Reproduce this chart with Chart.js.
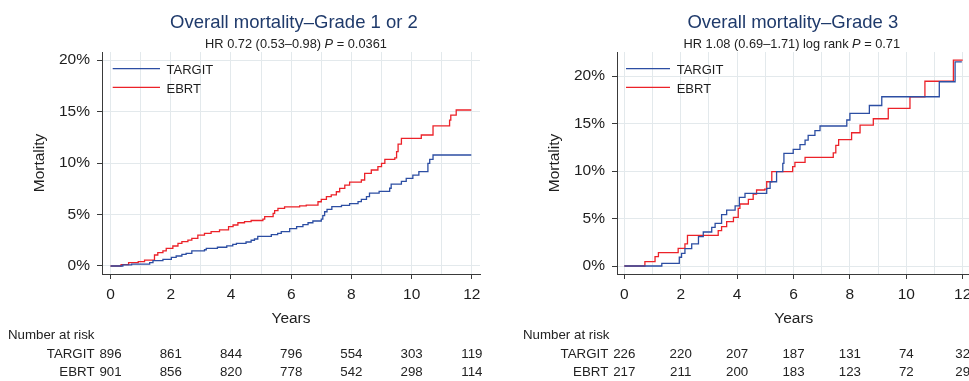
<!DOCTYPE html>
<html>
<head>
<meta charset="utf-8">
<title>Overall mortality by grade</title>
<script src="https://cdn.jsdelivr.net/npm/chart.js@4.4.1/dist/chart.umd.min.js"></script>
<style>
  html, body { margin: 0; padding: 0; background: #ffffff; overflow: hidden; }
  #wrap { position: relative; width: 969px; height: 381px; overflow: hidden; background: #ffffff; }
  #wrap canvas { position: absolute; top: 0; }
  #gradeLow { left: 0; }
  #gradeHigh { left: 500px; }
</style>
</head>
<body>
<div id="wrap">
  <canvas id="gradeLow" width="500" height="381"></canvas>
  <canvas id="gradeHigh" width="480" height="381"></canvas>
</div>
<script>
// ---- axis ticks and series names ----
const yearGrid = [0, 1, 2, 3, 4, 5, 6, 7, 8, 9, 10, 11, 12];
const riskYears = [0, 2, 4, 6, 8, 10, 12];
const pctTicks = [0, 5, 10, 15, 20];
const seriesNames = ['TARGIT', 'EBRT'];

// ---- Grade 1 or 2: cumulative mortality (%) after each event time (years) ----
const g12TargitYears = [0, 0.41, 0.70, 1.30, 1.41, 1.74, 2.02, 2.18, 2.37, 2.51, 2.70, 3.12, 3.18, 3.55, 3.86, 4.06, 4.18, 4.50, 4.67, 4.78, 4.89, 5.34, 5.55, 5.67, 5.95, 6.18, 6.39, 6.56, 6.72, 7.00, 7.05, 7.11, 7.19, 7.35, 7.67, 7.94, 8.22, 8.33, 8.50, 8.60, 8.92, 9.27, 9.32, 9.66, 9.82, 10.04, 10.24, 10.54, 10.60, 10.71, 11.98];
const g12TargitPct   = [0, 0.10, 0.19, 0.32, 0.52, 0.65, 0.84, 0.97, 1.13, 1.23, 1.46, 1.58, 1.72, 1.82, 1.96, 2.10, 2.20, 2.33, 2.50, 2.62, 2.88, 3.05, 3.17, 3.33, 3.63, 3.82, 4.02, 4.20, 4.37, 4.55, 4.90, 5.27, 5.50, 5.76, 5.89, 6.05, 6.26, 6.47, 6.73, 7.08, 7.25, 7.55, 7.95, 8.22, 8.51, 8.83, 9.16, 9.97, 10.36, 10.78, 10.78];
const g12EbrtYears   = [0, 0.35, 0.60, 0.92, 1.13, 1.46, 1.57, 1.74, 1.85, 2.07, 2.24, 2.37, 2.57, 2.70, 2.90, 3.12, 3.34, 3.62, 3.92, 4.07, 4.23, 4.45, 4.67, 5.06, 5.12, 5.40, 5.45, 5.56, 5.78, 6.28, 6.50, 6.89, 7.00, 7.17, 7.33, 7.50, 7.61, 7.78, 7.94, 8.33, 8.44, 8.66, 8.88, 9.00, 9.11, 9.44, 9.50, 9.55, 9.66, 10.32, 10.71, 11.26, 11.30, 11.48, 11.98];
const g12EbrtPct     = [0, 0.13, 0.32, 0.42, 0.58, 1.07, 1.29, 1.46, 1.72, 1.94, 2.20, 2.36, 2.52, 2.69, 3.00, 3.17, 3.33, 3.50, 3.82, 3.98, 4.20, 4.30, 4.42, 4.55, 4.79, 5.11, 5.37, 5.60, 5.74, 5.83, 5.92, 6.24, 6.47, 6.73, 6.90, 7.21, 7.54, 7.86, 8.14, 8.35, 9.00, 9.32, 9.64, 9.97, 10.36, 10.50, 11.10, 11.84, 12.40, 12.72, 13.60, 14.17, 14.66, 15.15, 15.15];

// ---- Grade 3 ----
const g3TargitYears = [0, 1.33, 1.95, 2.03, 2.15, 2.39, 2.63, 2.80, 3.10, 3.22, 3.45, 3.63, 3.93, 4.08, 4.28, 5.05, 5.17, 5.40, 5.62, 5.66, 5.99, 6.23, 6.41, 6.52, 6.76, 6.94, 7.89, 8.00, 8.69, 9.13, 11.17, 11.73, 11.97];
const g3TargitPct   = [0, 0.28, 0.92, 1.33, 1.82, 2.32, 3.09, 3.58, 4.07, 4.49, 5.40, 5.89, 6.32, 7.23, 7.65, 8.18, 8.87, 9.93, 10.81, 11.86, 12.28, 12.77, 13.26, 13.75, 14.25, 14.74, 15.37, 16.07, 16.90, 17.82, 19.40, 21.50, 21.50];
const g3EbrtYears   = [0, 0.73, 1.09, 1.21, 1.91, 2.15, 2.24, 3.33, 3.45, 3.63, 3.87, 4.04, 4.10, 4.40, 4.57, 4.69, 4.98, 5.05, 5.23, 5.97, 6.05, 6.41, 7.41, 7.50, 7.60, 8.06, 8.36, 8.83, 9.36, 10.13, 10.66, 11.67, 12.00];
const g3EbrtPct     = [0, 0.46, 0.98, 1.40, 1.86, 2.32, 3.23, 3.72, 4.14, 4.67, 5.12, 6.07, 6.53, 7.02, 7.58, 8.00, 8.10, 8.87, 9.93, 10.46, 10.91, 11.44, 11.90, 12.70, 13.30, 14.03, 14.84, 15.50, 16.60, 17.82, 19.45, 21.68, 21.68];

// ---- Number at risk at 0, 2, ..., 12 years ----
const g12TargitRisk = [896, 861, 844, 796, 554, 303, 119];
const g12EbrtRisk   = [901, 856, 820, 778, 542, 298, 114];
const g3TargitRisk  = [226, 220, 207, 187, 131, 74, 32];
const g3EbrtRisk    = [217, 211, 200, 183, 123, 72, 29];

// ---- styling ----
const FONT = "'Liberation Sans', Arial, Helvetica, sans-serif";
const BLUE = '#2c4ea3';
const RED = '#ec2229';
const TEXT = '#1e1e1e';
const AXIS = '#3a3a3a';
const GRID = '#e3e9ec';
const TITLE = '#1f3a6b';

function toPoints(xs, ys) {
  return xs.map((x, i) => ({ x: x, y: ys[i] }));
}

// Titles, the in-plot key and the number-at-risk table
const kmAnnotations = {
  id: 'kmAnnotations',
  afterDraw(chart, args, opts) {
    const ctx = chart.ctx;
    const a = chart.chartArea;
    const xs = chart.scales.x;
    ctx.save();

    // main title
    const cx = (a.left + a.right) / 2 + opts.titleShift;
    ctx.textBaseline = 'alphabetic';
    ctx.textAlign = 'center';
    ctx.fillStyle = TITLE;
    ctx.font = '18.5px ' + FONT;
    ctx.fillText(opts.title, cx, 27.5);

    // subtitle with an italic P
    const parts = opts.subtitle;
    const fontFor = p => (p.italic ? 'italic ' : '') + '12.8px ' + FONT;
    let total = 0;
    parts.forEach(p => { ctx.font = fontFor(p); total += ctx.measureText(p.text).width; });
    let sx = cx - total / 2 + opts.subShift;
    ctx.textAlign = 'left';
    ctx.fillStyle = '#222222';
    parts.forEach(p => {
      ctx.font = fontFor(p);
      ctx.fillText(p.text, sx, 47.8);
      sx += ctx.measureText(p.text).width;
    });

    // key inside the plot region
    ctx.font = '13px ' + FONT;
    chart.data.datasets.forEach((ds, i) => {
      const y = a.top + opts.keyRows[i];
      ctx.beginPath();
      ctx.strokeStyle = ds.borderColor;
      ctx.lineWidth = 1.2;
      ctx.moveTo(a.left + opts.keyLine[0], y);
      ctx.lineTo(a.left + opts.keyLine[1], y);
      ctx.stroke();
      ctx.fillStyle = TEXT;
      ctx.fillText(ds.label, a.left + opts.keyText, y + 5.3);
    });

    // number at risk
    ctx.fillStyle = '#222222';
    ctx.font = '13.3px ' + FONT;
    ctx.textAlign = 'left';
    ctx.fillText('Number at risk', a.left - 94, 338.5);
    const x0 = xs.getPixelForValue(riskYears[0]);
    opts.risk.forEach((row, r) => {
      const y = opts.riskRows[r];
      ctx.textAlign = 'right';
      ctx.fillText(seriesNames[r], x0 - 16, y);
      ctx.textAlign = 'center';
      row.forEach((n, j) => {
        ctx.fillText(String(n), xs.getPixelForValue(riskYears[j]), y);
      });
    });
    ctx.restore();
  }
};

function makeChart(id, cfg) {
  return new Chart(document.getElementById(id), {
    type: 'line',
    data: {
      datasets: [
        { label: seriesNames[0], data: toPoints(cfg.tYears, cfg.tPct), borderColor: BLUE, borderWidth: 1.3,
          stepped: 'before', pointRadius: 0, pointHoverRadius: 0, fill: false, tension: 0 },
        { label: seriesNames[1], data: toPoints(cfg.eYears, cfg.ePct), borderColor: RED, borderWidth: 1.3,
          stepped: 'before', pointRadius: 0, pointHoverRadius: 0, fill: false, tension: 0 }
      ]
    },
    options: {
      responsive: false,
      maintainAspectRatio: false,
      animation: false,
      devicePixelRatio: 1,
      events: [],
      layout: { padding: cfg.padding },
      plugins: {
        legend: { display: false },
        tooltip: { enabled: false },
        kmAnnotations: {
          title: cfg.title,
          subtitle: cfg.subtitle,
          titleShift: cfg.titleShift,
          subShift: cfg.subShift,
          keyRows: [16.7, 35.3],
          keyLine: cfg.keyLine,
          keyText: cfg.keyText,
          risk: cfg.risk,
          riskRows: [357.5, 376]
        }
      },
      scales: {
        x: {
          type: 'linear',
          min: cfg.xMin,
          max: cfg.xMax,
          afterBuildTicks: s => { s.ticks = yearGrid.map(v => ({ value: v })); },
          afterFit: s => { s.height = 54; },
          ticks: {
            autoSkip: false, maxRotation: 0, minRotation: 0, padding: 6,
            color: TEXT, font: { family: FONT, size: 15.5 },
            callback: v => (v % 2 === 0 ? String(v) : '')
          },
          grid: {
            color: GRID, lineWidth: 1, tickLength: 5, drawTicks: true,
            tickColor: c => (c.tick && c.tick.value % 2 === 0 ? AXIS : 'rgba(0,0,0,0)')
          },
          border: { display: true, color: AXIS, width: 1 },
          title: { display: true, text: 'Years', color: TEXT, font: { family: FONT, size: 15.5 }, padding: 0 }
        },
        y: {
          type: 'linear',
          min: cfg.yMin,
          max: cfg.yMax,
          afterBuildTicks: s => { s.ticks = pctTicks.map(v => ({ value: v })); },
          afterFit: s => { s.width = 72; },
          ticks: {
            padding: 7, color: TEXT, font: { family: FONT, size: 15.5 },
            callback: v => v + '%'
          },
          grid: { color: GRID, lineWidth: 1, tickLength: 5, drawTicks: true, tickColor: AXIS },
          border: { display: true, color: AXIS, width: 1 },
          title: { display: true, text: 'Mortality', color: TEXT, font: { family: FONT, size: 15.5 }, padding: 0 }
        }
      }
    },
    plugins: [kmAnnotations]
  });
}

makeChart('gradeLow', {
  tYears: g12TargitYears, tPct: g12TargitPct,
  eYears: g12EbrtYears, ePct: g12EbrtPct,
  risk: [g12TargitRisk, g12EbrtRisk],
  title: 'Overall mortality\u2013Grade 1 or 2',
  subtitle: [{ text: 'HR 0.72 (0.53\u20130.98) ' }, { text: 'P', italic: true }, { text: ' = 0.0361' }],
  titleShift: 3, subShift: 2,
  keyLine: [10.7, 58], keyText: 64.5,
  padding: { left: 30, right: 20, top: 52, bottom: 53 },
  xMin: -0.283, xMax: 12.27, yMin: -0.777, yMax: 20.78
});

makeChart('gradeHigh', {
  tYears: g3TargitYears, tPct: g3TargitPct,
  eYears: g3EbrtYears, ePct: g3EbrtPct,
  risk: [g3TargitRisk, g3EbrtRisk],
  title: 'Overall mortality\u2013Grade 3',
  subtitle: [{ text: 'HR 1.08 (0.69\u20131.71) log rank ' }, { text: 'P', italic: true }, { text: ' = 0.71' }],
  titleShift: -1, subShift: -1,
  keyLine: [9, 53], keyText: 59.7,
  padding: { left: 45, right: 9.4, top: 52, bottom: 53 },
  xMin: -0.259, xMax: 12.28, yMin: -0.842, yMax: 22.53
});
</script>
</body>
</html>
